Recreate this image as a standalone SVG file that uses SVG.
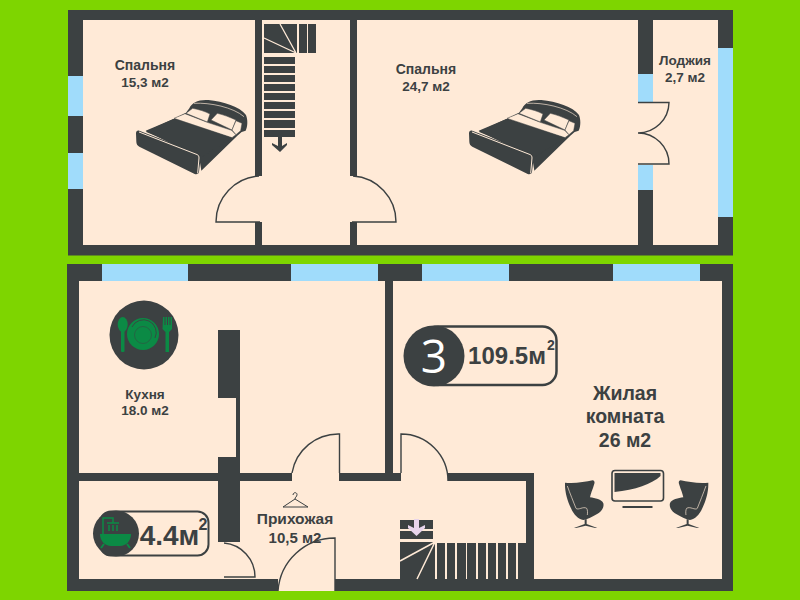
<svg xmlns="http://www.w3.org/2000/svg" xmlns:xlink="http://www.w3.org/1999/xlink" width="800" height="600" viewBox="0 0 800 600">
<style>
.w{fill:#3c4142}.r{fill:#ffead7}.b{fill:#a0dcfb}.g{fill:#0b8a45}
.d{fill:none;stroke:#3c4142;stroke-width:1.4}
.c{fill:none;stroke:#ffead7}
.p{fill:#ffead7;stroke:#3c4142;stroke-width:1.500}
.t{font-family:"Liberation Sans",Arial,sans-serif;fill:#3c4142;text-anchor:middle;font-weight:700}
.s{font-size:13.5px}
</style>
<defs>
<g id="bed" transform="translate(130,90) scale(.3333)">
<path class="w" d="M178 55C185 38 205 28 235 30C280 34 330 50 348 75C354 90 353 110 347 122L335 126L322 137L214 242L206 192L47 125L130 87L168 68Z"/>
<path class="c" stroke-width="2" d="M192 40C240 37 310 52 342 80"/>
<path class="p" d="M132 85L165 71L232 97L305 121L318 134L306 143Z"/>
<path class="p" d="M168 70L188 55C205 58 225 64 240 72L232 96Z"/>
<path class="p" d="M243 90L262 70C280 74 300 82 318 90L306 120Z"/>
<path class="p" d="M318 92L336 100L332 122L318 134L306 120Z"/>
<path class="w" d="M47 122L130 87L306 143L210 205Z"/>
<path class="w" d="M18 130C18 124 22 120 28 122L204 190C210 193 213 198 212 204L207 246C206 252 200 254 194 252L28 170C22 167 19 162 19 155Z"/>
<path class="c" stroke-width="3" d="M27 126L202 194C206 196 207 200 207 204L203 250"/>
</g>
<g id="chair" transform="translate(550,460) scale(.3333)">
<path class="w" d="M45 68C70 72 105 66 128 61C134 62 135 68 132 74C128 88 122 100 120 112C135 114 155 118 160 130C163 142 155 155 140 163C125 172 112 178 100 180C85 178 72 165 63 145C52 122 44 95 45 68Z"/>
<path class="w" d="M104 178H110V192L142 204H136L107 197L78 204H72L104 192Z"/>
<path class="c" stroke-width="2" d="M52 78C60 100 70 125 78 145C84 152 100 138 110 145C113 150 113 158 112 165"/>
</g>
</defs>
<rect id="background" width="800" height="600" fill="#7ed500"/>
<g id="upper-floor">
<rect class="w" x="68" y="10" width="665" height="245.500"/>
<rect class="r" x="83" y="20" width="172" height="225"/>
<rect class="r" x="262" y="20" width="88" height="225"/>
<rect class="r" x="357" y="20" width="281" height="225"/>
<rect class="r" x="653" y="20" width="65" height="225"/>
<rect class="r" x="255" y="176" width="102" height="46"/>
<rect class="r" x="638" y="102" width="15" height="63"/>
<rect class="b" x="68" y="76" width="15" height="40"/>
<rect class="b" x="68" y="153" width="15" height="36"/>
<rect class="b" x="638" y="74" width="15" height="28"/>
<rect class="b" x="638" y="165" width="15" height="25"/>
<rect class="b" x="718" y="48" width="15" height="169"/>
<path class="d" d="M259 176A46 46 0 0 0 216 222H260"/>
<path class="d" d="M353 176A46 46 0 0 1 396 222H352"/>
<path class="d" d="M638 102.500H669A31 31 0 0 1 638 133A31 31 0 0 1 669 164H638"/>
</g>
<g id="upper-stairs">
<rect class="w" x="264" y="24" width="33" height="29"/>
<path class="c" stroke-width="1.300" d="M296 53L264 38M296 53L280 24"/>
<path class="w" d="M299 24h8v29h-8ZM308 24h8v29h-8ZM264 57h31v7h-31ZM264 66h31v7h-31ZM264 75h31v7h-31ZM264 84h31v7h-31ZM264 93h31v7h-31ZM264 102h31v7h-31ZM264 111h31v7h-31ZM264 120h31v8h-31ZM264 130h31v7h-31Z"/>
<path class="w" d="M278 137h4v9l5 -3v2l-7 7l-8 -7v-2l6 3Z"/>
</g>
<g id="lower-floor">
<rect class="w" x="67" y="264" width="666" height="327"/>
<rect class="r" x="79" y="281" width="643" height="298"/>
<rect class="r" x="278" y="579" width="57" height="12"/>
<rect class="b" x="102" y="264" width="86" height="17"/>
<rect class="b" x="291" y="264" width="87" height="17"/>
<rect class="b" x="422" y="264" width="87" height="17"/>
<rect class="b" x="613" y="264" width="87" height="17"/>
<rect class="w" x="385" y="281" width="8" height="192"/>
<rect class="w" x="79" y="473" width="213" height="8"/>
<rect class="w" x="339" y="473" width="62" height="8"/>
<rect class="w" x="448" y="473" width="86" height="8"/>
<rect class="w" x="526" y="473" width="8" height="106"/>
<rect class="w" x="218" y="330" width="22" height="68"/>
<rect class="w" x="236" y="398" width="4" height="59"/>
<rect class="w" x="218" y="457" width="22" height="85"/>
<path class="d" d="M292 473A47 47 0 0 1 339.500 434V473"/>
<path class="d" d="M401 473V434A47 47 0 0 1 448 481"/>
<path class="d" d="M278 591A57 57 0 0 1 335 538V591"/>
<path class="d" d="M224 543A34 34 0 0 1 255 577H224"/>
</g>
<g id="lower-stairs">
<path class="w" d="M400 520h33v9h-33ZM400 531h33v8h-33ZM400 542h35v37h-35Z"/>
<path class="c" stroke-width="1.500" d="M435 542L400 561M435 542L417 579"/>
<path class="w" d="M437 543h8v36h-8ZM447 543h8v36h-8ZM457 543h9v36h-9ZM467 543h9v36h-9ZM478 543h8v36h-8ZM488 543h8v36h-8ZM498 543h8v36h-8ZM508 543h8v36h-8ZM518 543h8v36h-8Z"/>
<path fill="#e8d4ec" d="M414 519h5v9l6 -3v3l-8.500 8l-8.500 -8v-3l6 3Z"/>
</g>
<g id="beds">
<use xlink:href="#bed" href="#bed"/>
<use xlink:href="#bed" href="#bed" x="333"/>
</g>
<g id="living-furniture">
<use xlink:href="#chair" href="#chair"/>
<g transform="translate(1273.300,0) scale(-1,1)"><use xlink:href="#chair" href="#chair"/></g>
<rect x="612" y="470.500" width="51.500" height="30.500" rx="3" fill="none" stroke="#3c4142" stroke-width="1.600"/>
<path class="w" d="M614.500 473H660.500V476C652 484 635 490 614.500 492Z"/>
<rect class="w" x="622.500" y="506" width="30" height="2"/>
</g>
<g id="kitchen-icon">
<circle class="w" cx="144" cy="335" r="34.500"/>
<circle class="g" cx="143" cy="334" r="16"/>
<path d="M132 327A12.500 12.500 0 0 1 155 338" fill="none" stroke="#3c4142" stroke-width=".9"/>
<circle cx="143" cy="335" r="8.500" fill="none" stroke="#3c4142" stroke-width=".5"/>
<ellipse class="g" cx="122.700" cy="324.500" rx="5" ry="7.500"/>
<rect class="g" x="121" y="330" width="3.500" height="22" rx="1"/>
<path class="g" d="M163 317h1.500v8h1v-8h1.500v8h1v-8h1.500v8h1v-8h1.500v12l-3 3v20h-3.500v-20l-3 -3Z"/>
</g>
<g id="badges">
<rect x="424" y="326.500" width="132.500" height="58.500" rx="14" fill="none" stroke="#3c4142" stroke-width="2.500"/>
<circle class="w" cx="434" cy="356" r="30.500"/>
<rect x="100" y="511.500" width="108.500" height="44" rx="11" fill="none" stroke="#3c4142" stroke-width="2"/>
<g id="bath-icon">
<circle class="w" cx="116" cy="533.500" r="23"/>
<path class="g" d="M100 534H131C131 541 126 546 120 546H111C105 546 100 541 100 534Z"/>
<path d="M104 544l-3 4M127 544l3 4" stroke="#0b8a45" stroke-width="2" fill="none"/>
<path d="M103 534V518H113V523M107 523H119M109 525V531M113 525V531M117 525V531" stroke="#0b8a45" stroke-width="1.500" fill="none"/>
</g>
</g>
<g id="labels">
<text class="t" font-size="14" x="145" y="70">Спальня</text>
<text class="t s" x="145" y="87">15,3 м2</text>
<text class="t" font-size="14" x="426" y="74">Спальня</text>
<text class="t s" x="426" y="91">24,7 м2</text>
<text class="t s" x="685" y="65">Лоджия</text>
<text class="t s" x="685" y="82">2,7 м2</text>
<text class="t s" x="145" y="399">Кухня</text>
<text class="t s" x="145" y="415">18.0 м2</text>
<text class="t" font-size="15.500" x="295" y="524">Прихожая</text>
<text class="t" font-size="15" x="295" y="543">10,5 м2</text>
<text class="t" font-size="19.500" x="625" y="400">Жилая</text>
<text class="t" font-size="19.500" x="625" y="423">комната</text>
<text class="t" font-size="19.500" x="625" y="447">26 м2</text>
<text x="434" y="373" text-anchor="middle" font-family="Open Sans,sans-serif" font-size="46" fill="#fff">3</text>
<text class="t" font-size="24" x="507" y="364">109.5м</text>
<text class="t" font-size="14" x="551" y="350">2</text>
<text class="t" font-size="28" x="169.500" y="545">4.4м</text>
<text class="t" font-size="16" x="203" y="530">2</text>
</g>
<g id="hanger" fill="none" stroke="#3c4142" stroke-width="1">
<path d="M293 495C293 492 297 492 297 494.500C297 497 295 497 295 499L283 507H308L295 499"/>
</g>
</svg>
